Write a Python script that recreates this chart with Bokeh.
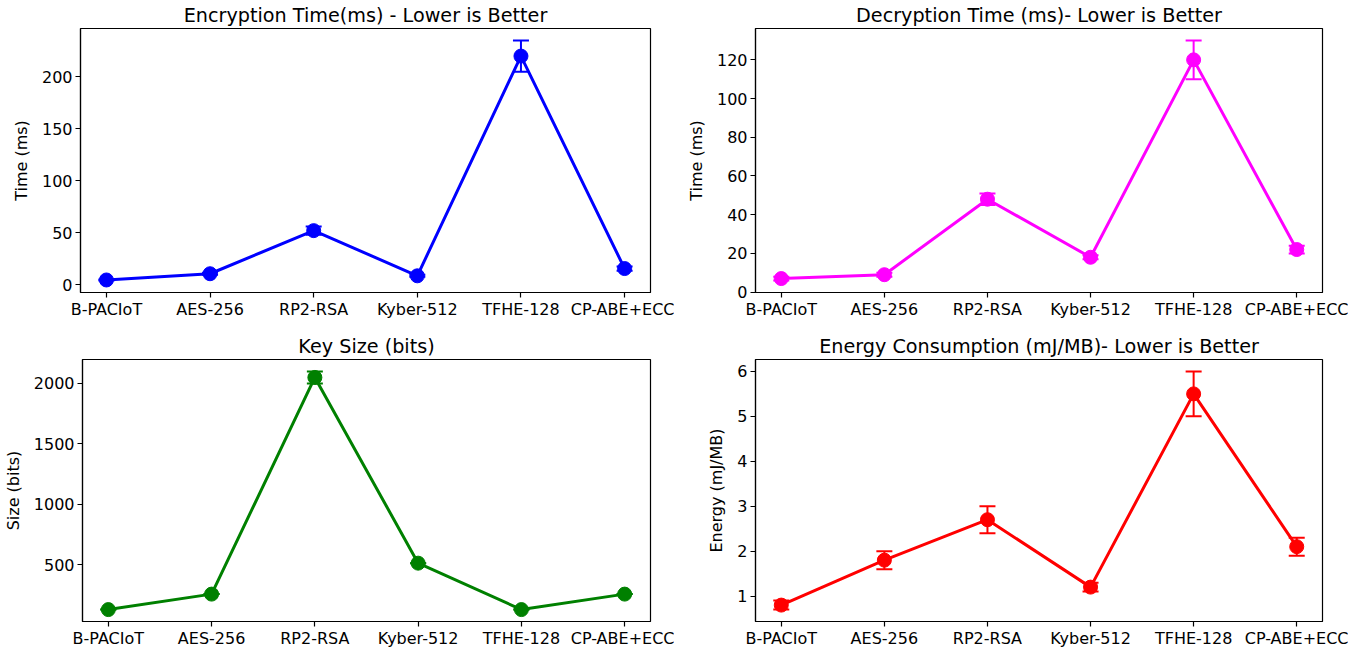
from bokeh.plotting import figure
from bokeh.layouts import column, row
from bokeh.models import ColumnDataSource, Range1d, FixedTicker, SingleIntervalTicker, Whisker, TeeHead
from bokeh.embed import file_html
from bokeh.resources import INLINE

# ---- data ----
methods = ["B-PACIoT", "AES-256", "RP2-RSA", "Kyber-512", "TFHE-128", "CP-ABE+ECC"]

enc_time = [4.5, 10.5, 52, 8.5, 220, 15.5]
enc_err = [0.5, 1, 4, 1, 15, 2]

dec_time = [7, 9, 48, 18, 120, 22]
dec_err = [1, 1, 3, 1, 10, 2]

key_size = [128, 256, 2048, 512, 128, 256]
key_err = [0, 0, 50, 0, 0, 0]

energy = [0.8, 1.8, 2.7, 1.2, 5.5, 2.1]
energy_err = [0.1, 0.2, 0.3, 0.1, 0.5, 0.2]

FONT = "DejaVu Sans"


def make_panel(title, ylabel, vals, errs, color, y_interval, borders, w, h):
    xs = list(range(len(methods)))
    lo = min(v - e for v, e in zip(vals, errs))
    hi = max(v + e for v, e in zip(vals, errs))
    pad = (hi - lo) * 0.05
    bl, br, bt, bb = borders
    p = figure(width=w, height=h, output_backend="svg", toolbar_location=None,
               x_range=Range1d(-0.25, len(methods) - 0.75),
               y_range=Range1d(lo - pad, hi + pad),
               min_border_left=bl, min_border_right=br,
               min_border_top=bt, min_border_bottom=bb)
    p.title.text = title
    p.title.align = "center"
    p.title.text_font = FONT
    p.title.text_font_size = "19.2px"
    p.title.text_font_style = "normal"
    p.title.text_color = "#000000"
    p.title.standoff = 3
    p.title.offset = 0

    src = ColumnDataSource(dict(x=xs, y=vals,
                                upper=[v + e for v, e in zip(vals, errs)],
                                lower=[v - e for v, e in zip(vals, errs)]))
    p.line("x", "y", source=src, line_color=color, line_width=3)
    wk = Whisker(base="x", upper="upper", lower="lower", source=src,
                 line_color=color, line_width=2,
                 upper_head=TeeHead(size=16, line_color=color, line_width=2),
                 lower_head=TeeHead(size=16, line_color=color, line_width=2))
    p.add_layout(wk)
    p.scatter("x", "y", source=src, size=14, fill_color=color, line_color=color)

    p.xgrid.visible = False
    p.ygrid.visible = False
    p.outline_line_color = "#000000"
    p.outline_line_width = 1.2
    p.background_fill_color = "white"
    p.border_fill_color = "white"

    p.xaxis.ticker = FixedTicker(ticks=xs)
    p.xaxis.major_label_overrides = {i: m for i, m in enumerate(methods)}
    p.yaxis.ticker = SingleIntervalTicker(interval=y_interval)
    p.yaxis.axis_label = ylabel
    for ax in (p.xaxis[0], p.yaxis[0]):
        ax.axis_line_color = "#000000"
        ax.axis_line_width = 1.2
        ax.major_tick_line_color = "#000000"
        ax.major_tick_line_width = 1.2
        ax.major_tick_out = 5
        ax.major_tick_in = 0
        ax.minor_tick_line_color = None
        ax.major_label_text_font = FONT
        ax.major_label_text_font_size = "16px"
        ax.major_label_text_color = "#000000"
        ax.major_label_standoff = 3
        ax.axis_label_text_font = FONT
        ax.axis_label_text_font_size = "16px"
        ax.axis_label_text_font_style = "normal"
        ax.axis_label_text_color = "#000000"
        ax.axis_label_standoff = 8
    p.xaxis.major_label_standoff = 2
    return p


p1 = make_panel("Encryption Time(ms) - Lower is Better", "Time (ms)", enc_time, enc_err,
                "#0000ff", 50, (80, 24, 25, 30), 674, 322)
p2 = make_panel("Decryption Time (ms)- Lower is Better", "Time (ms)", dec_time, dec_err,
                "#ff00ff", 20, (81, 26, 25, 30), 674, 322)
p3 = make_panel("Key Size (bits)", "Size (bits)", key_size, key_err,
                "#008000", 500, (80, 24, 37, 26), 674, 328)
p4 = make_panel("Energy Consumption (mJ/MB)- Lower is Better", "Energy (mJ/MB)", energy, energy_err,
                "#ff0000", 1, (81, 26, 37, 26), 674, 328)

layout = column(row(p1, p2, spacing=0), row(p3, p4, spacing=0), spacing=0)

open("out.html", "w").write(file_html(layout, INLINE))
